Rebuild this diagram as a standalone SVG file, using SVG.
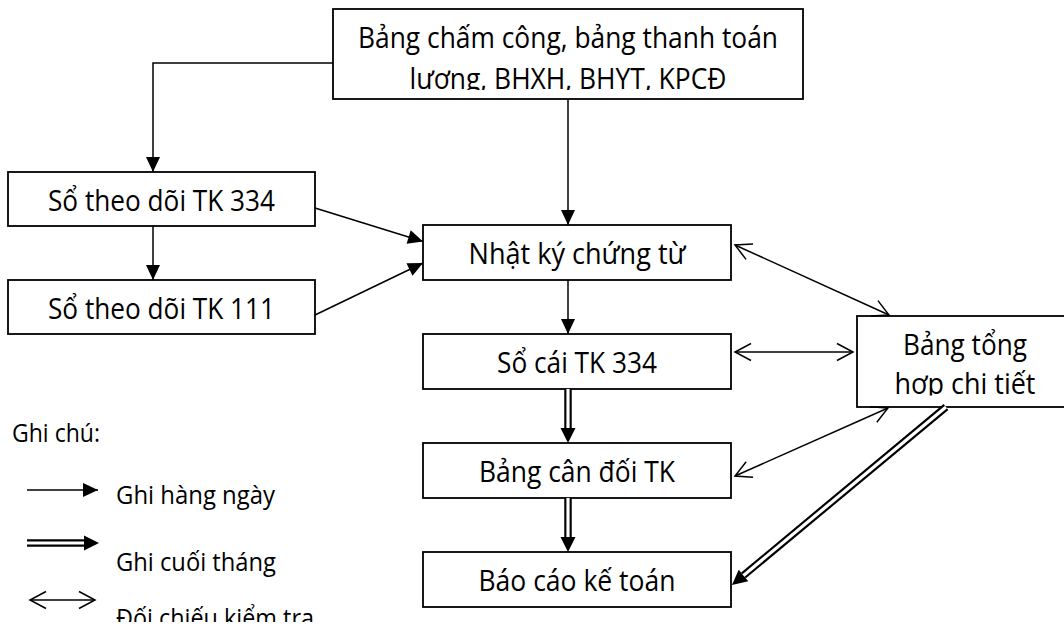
<svg xmlns="http://www.w3.org/2000/svg" width="1064" height="637" viewBox="0 0 1064 637">
<style>
.box{fill:#fff;stroke:#000;stroke-width:1.8}
.lbl{font-family:"Open Sans","Noto Sans","DejaVu Sans",sans-serif;font-size:28.5px;fill:#000;text-anchor:middle}
.leg{font-family:"Open Sans","Noto Sans","DejaVu Sans",sans-serif;font-size:26px;fill:#000}
.ln{fill:none;stroke:#000;stroke-width:1.5}
.dbo{fill:none;stroke:#000;stroke-width:7.5}
.dbi{fill:none;stroke:#fff;stroke-width:3.2}
</style>
<defs>
<marker id="ah" markerUnits="userSpaceOnUse" markerWidth="18" markerHeight="16" viewBox="-16 -8 18 16" refX="0" refY="0" orient="auto" overflow="visible"><path d="M-15,-7 L0,0 L-15,7 Z" fill="#000"/></marker>
<marker id="oh" markerUnits="userSpaceOnUse" markerWidth="22" markerHeight="22" viewBox="-19 -11 22 22" refX="0" refY="0" orient="auto-start-reverse" overflow="visible"><path d="M-16,-8.5 L0,0 L-16,8.5" fill="none" stroke="#000" stroke-width="1.5"/></marker>
<marker id="dh" markerUnits="userSpaceOnUse" markerWidth="18" markerHeight="18" viewBox="-1 -9 18 18" refX="0" refY="0" orient="auto" overflow="visible"><path d="M0,-7.5 L15,0 L0,7.5 Z" fill="#000"/></marker>
<clipPath id="clipTop"><rect x="333" y="9" width="470" height="81"/></clipPath>
<clipPath id="clipTH"><rect x="857" y="316" width="216" height="79.5"/></clipPath>
<clipPath id="clipLeg"><rect x="100" y="590" width="260" height="32"/></clipPath>
</defs>
<rect width="1064" height="637" fill="#fff"/>

<g id="n-top">
<rect class="box" x="333" y="9" width="470" height="90"/>
<g clip-path="url(#clipTop)">
<text class="lbl" x="568" y="48" textLength="420" lengthAdjust="spacingAndGlyphs">Bảng chấm công, bảng thanh toán</text>
<text class="lbl" x="568" y="89" textLength="317" lengthAdjust="spacingAndGlyphs">lương, BHXH, BHYT, KPCĐ</text>
</g>
</g>
<g id="n-so334">
<rect class="box" x="8" y="172" width="307" height="54"/>
<text class="lbl" x="161.5" y="211" textLength="227" lengthAdjust="spacingAndGlyphs">Sổ theo dõi TK 334</text>
</g>
<g id="n-so111">
<rect class="box" x="8" y="280" width="307" height="54"/>
<text class="lbl" x="161.5" y="319" textLength="227" lengthAdjust="spacingAndGlyphs">Sổ theo dõi TK 111</text>
</g>
<g id="n-nhatky">
<rect class="box" x="423" y="225" width="308" height="55"/>
<text class="lbl" x="577" y="264" textLength="217" lengthAdjust="spacingAndGlyphs">Nhật ký chứng từ</text>
</g>
<g id="n-socai">
<rect class="box" x="423" y="334" width="308" height="55"/>
<text class="lbl" x="577" y="373" textLength="160" lengthAdjust="spacingAndGlyphs">Sổ cái TK 334</text>
</g>
<g id="n-candoi">
<rect class="box" x="423" y="443" width="308" height="55"/>
<text class="lbl" x="577" y="482" textLength="196" lengthAdjust="spacingAndGlyphs">Bảng cân đối TK</text>
</g>
<g id="n-baocao">
<rect class="box" x="423" y="552" width="308" height="55"/>
<text class="lbl" x="577" y="591" textLength="197" lengthAdjust="spacingAndGlyphs">Báo cáo kế toán</text>
</g>
<g id="n-tonghop">
<rect class="box" x="857" y="316" width="216" height="91"/>
<g clip-path="url(#clipTH)">
<text class="lbl" x="965" y="355" textLength="124" lengthAdjust="spacingAndGlyphs">Bảng tổng</text>
<text class="lbl" x="965" y="394" textLength="141" lengthAdjust="spacingAndGlyphs">hợp chi tiết</text>
</g>
</g>

<g id="connectors">
<path class="ln" d="M333,63 H153 V172" marker-end="url(#ah)"/>
<path class="ln" d="M153,226 V280" marker-end="url(#ah)"/>
<path class="ln" d="M568,99 V225" marker-end="url(#ah)"/>
<path class="ln" d="M568,280 V334" marker-end="url(#ah)"/>
<path class="ln" d="M315,208 L423,241.5" marker-end="url(#ah)"/>
<path class="ln" d="M315,315 L423,263" marker-end="url(#ah)"/>
<path class="ln" d="M735,245 L889,315" marker-start="url(#oh)" marker-end="url(#oh)"/>
<path class="ln" d="M735,352 H853" marker-start="url(#oh)" marker-end="url(#oh)"/>
<path class="ln" d="M735,476 L888,408" marker-start="url(#oh)" marker-end="url(#oh)"/>
<g class="dbl">
<path class="dbo" d="M568,389 V428" marker-end="url(#dh)"/>
<path class="dbi" d="M568,389 V428"/>
</g>
<g class="dbl">
<path class="dbo" d="M568,498 V537" marker-end="url(#dh)"/>
<path class="dbi" d="M568,498 V537"/>
</g>
<g class="dbl">
<path class="dbo" d="M946,407 L743.5,575.4" marker-end="url(#dh)"/>
<path class="dbi" d="M946,407 L743.5,575.4"/>
</g>
</g>

<g id="legend">
<text class="leg" x="12" y="442" textLength="88" lengthAdjust="spacingAndGlyphs">Ghi chú:</text>
<path class="ln" d="M27,490 H98" marker-end="url(#ah)"/>
<text class="leg" x="116" y="504" textLength="159" lengthAdjust="spacingAndGlyphs">Ghi hàng ngày</text>
<path class="dbo" d="M27,543 H84" marker-end="url(#dh)"/>
<path class="dbi" d="M27,543 H84"/>
<text class="leg" x="116" y="571" textLength="160" lengthAdjust="spacingAndGlyphs">Ghi cuối tháng</text>
<path class="ln" d="M30,600 H95" marker-start="url(#oh)" marker-end="url(#oh)"/>
<g clip-path="url(#clipLeg)">
<text class="leg" x="116" y="627" textLength="198" lengthAdjust="spacingAndGlyphs">Đối chiếu kiểm tra</text>
</g>
</g>
</svg>
